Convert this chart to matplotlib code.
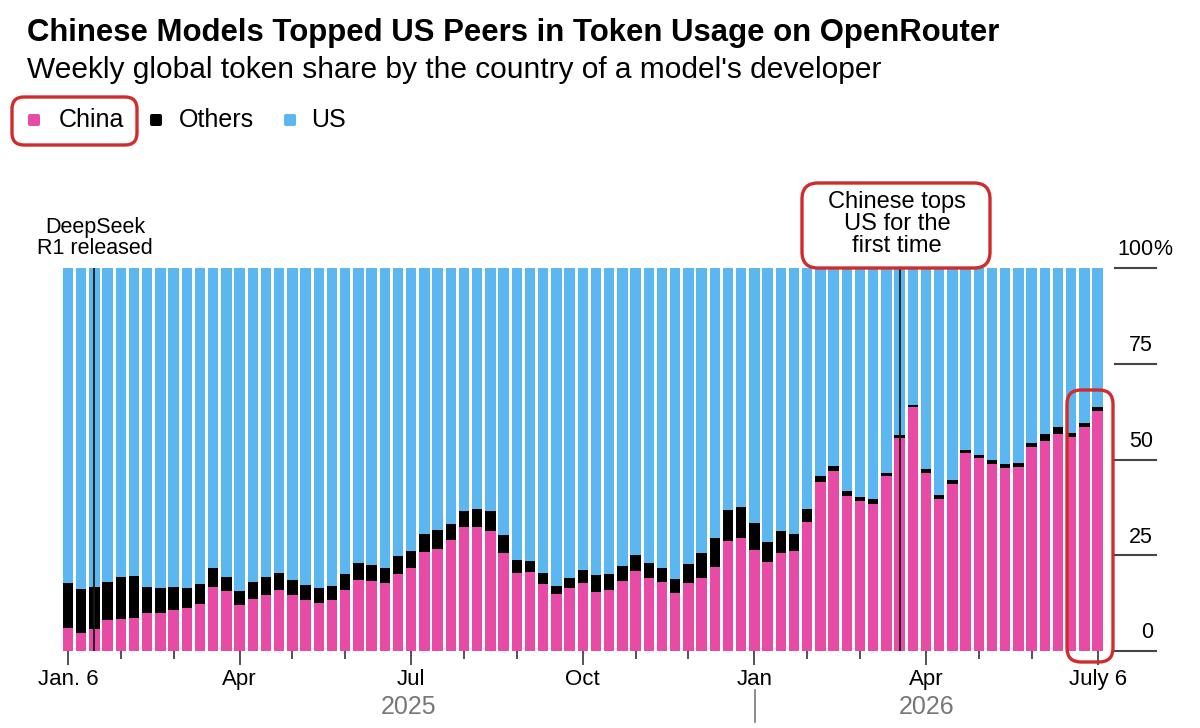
import numpy as np
import pandas as pd
import matplotlib.pyplot as plt
from matplotlib.patches import FancyBboxPatch

plt.rcParams['font.family'] = ['Liberation Sans', 'DejaVu Sans']

# weekly data, Jan 6 2025 .. Jul 6 2026 (share of tokens, %)
weeks = pd.date_range('2025-01-06', periods=79, freq='W-MON')
china = [6.1, 4.6, 5.8, 8.1, 8.3, 8.6, 10.0, 10.0, 10.7, 11.2,
         12.3, 16.6, 15.6, 12.1, 13.5, 14.5, 15.9, 14.6, 13.3, 12.6,
         13.3, 15.9, 18.5, 18.3, 17.8, 20.1, 21.6, 25.8, 26.7, 29.0,
         32.5, 32.5, 31.4, 25.7, 20.3, 20.7, 17.5, 14.9, 16.4, 17.7,
         15.5, 15.9, 18.2, 21.0, 19.1, 17.9, 15.1, 17.7, 19.1, 22.0,
         28.6, 29.6, 26.4, 23.2, 25.7, 26.1, 33.8, 44.0, 47.1, 40.5,
         39.2, 38.4, 45.8, 55.7, 63.6, 46.4, 39.6, 43.6, 51.6, 50.3,
         48.9, 47.9, 48.0, 53.3, 54.9, 56.7, 55.9, 58.4, 62.7]
others = [11.7, 11.6, 10.9, 10.0, 11.1, 11.0, 6.8, 6.4, 6.1, 5.3,
          5.2, 5.2, 3.7, 3.5, 4.5, 4.7, 4.5, 3.9, 3.9, 3.9,
          3.8, 4.2, 4.6, 4.1, 4.0, 4.7, 4.6, 4.7, 4.9, 4.2,
          4.0, 4.7, 5.1, 4.6, 3.5, 2.9, 2.9, 2.2, 2.6, 3.4,
          4.3, 4.2, 4.0, 4.0, 4.0, 3.8, 3.8, 5.0, 6.6, 7.5,
          8.2, 8.1, 6.9, 5.3, 5.7, 4.4, 3.2, 1.7, 1.2, 1.4,
          1.1, 1.2, 0.8, 0.7, 0.7, 1.2, 1.1, 1.0, 0.9, 0.9,
          0.9, 0.8, 1.0, 1.1, 1.8, 1.9, 1.1, 1.0, 1.1]
china = np.array(china)
others = np.array(others)
us = 100 - china - others

tick_labels = ['Jan. 6', 'Apr', 'Jul', 'Oct', 'Jan', 'Apr', 'July 6']
y_ticks = [0, 25, 50, 75, 100]

PINK = '#e84ba6'
BLUE = '#5cb6f0'
BLACK = '#000000'
RED = '#d12b2b'

fig = plt.figure(figsize=(12, 7.28), dpi=100)
ax = fig.add_axes([61.4 / 1200, 77 / 728, (1104.2 - 61.4) / 1200, 383 / 728])

x = np.arange(len(weeks))
ax.bar(x, china, width=0.8, color=PINK, linewidth=0)
ax.bar(x, others, bottom=china, width=0.8, color=BLACK, linewidth=0)
ax.bar(x, us, bottom=china + others, width=0.8, color=BLUE, linewidth=0)
ax.set_xlim(-0.5, len(weeks) - 0.5)
ax.set_ylim(0, 100)
for s in ax.spines.values():
    s.set_visible(False)
ax.set_yticks([])

# event lines
ax.vlines([2, 63], 0, 100, color='#1a1a1a', lw=1.3, zorder=3)

# month ticks (first Monday of the month), labeled every quarter
month_idx = [i for i, d in enumerate(weeks) if d.day <= 7]
major_idx = [i for i in month_idx if weeks[i].month in (1, 4, 7, 10)]
ax.set_xticks(major_idx)
ax.set_xticklabels(tick_labels, fontsize=16)
ax.set_xticks([i for i in month_idx if i not in major_idx], minor=True)
ax.tick_params(axis='x', which='major', length=10, width=1.3, color='#444', pad=3)
ax.tick_params(axis='x', which='minor', length=6, width=1.3, color='#444')

# right-hand value scale
for v in y_ticks:
    ax.plot([79.3, 82.4], [v, v], color='#444', lw=1.5, clip_on=False)
    ax.text(82.2, v + 2.0, str(v), ha='right', va='bottom', fontsize=15.5)
ax.text(82.2, 102.0, '%', ha='left', va='bottom', fontsize=15.5)

# overlay in pixel coordinates for titles, notes, boxes
ov = fig.add_axes([0, 0, 1, 1], zorder=5)
ov.set_xlim(0, 1200)
ov.set_ylim(728, 0)
ov.axis('off')
ov.patch.set_alpha(0)

ov.text(27, 33, 'Chinese Models Topped US Peers in Token Usage on OpenRouter',
        fontsize=22.4, weight='bold', va='center', ha='left')
ov.text(27, 70, "Weekly global token share by the country of a model's developer",
        fontsize=21.5, va='center', ha='left')

legend = [('China', PINK, 28, 59), ('Others', BLACK, 150, 179), ('US', BLUE, 284, 311)]
for name, col, sx, tx in legend:
    ov.add_patch(FancyBboxPatch((sx, 114), 12, 12, boxstyle='round,pad=0,rounding_size=2',
                                facecolor=col, edgecolor='none'))
    ov.text(tx, 120, name, fontsize=18, va='center', ha='left')

ov.text(95, 238, 'DeepSeek\nR1 released', fontsize=15.5, ha='center', va='center', linespacing=1.0)
ov.text(897, 224, 'Chinese tops\nUS for the\nfirst time', fontsize=17, ha='center', va='center',
        linespacing=1.0)

ov.text(409, 707, '2025', fontsize=18, color='#777', ha='center', va='center')
ov.text(927, 707, '2026', fontsize=18, color='#777', ha='center', va='center')
ov.plot([755, 755], [690, 722], color='#777', lw=1.2)

# red highlight boxes
for (bx, by, bw, bh, r) in [(12, 97, 125, 48, 12), (802, 183, 188, 85, 16), (1067, 390, 46, 272, 14)]:
    ov.add_patch(FancyBboxPatch((bx, by), bw, bh, boxstyle=f'round,pad=0,rounding_size={r}',
                                facecolor='none', edgecolor=RED, lw=2.4))

fig.savefig('out.png', dpi=100)
